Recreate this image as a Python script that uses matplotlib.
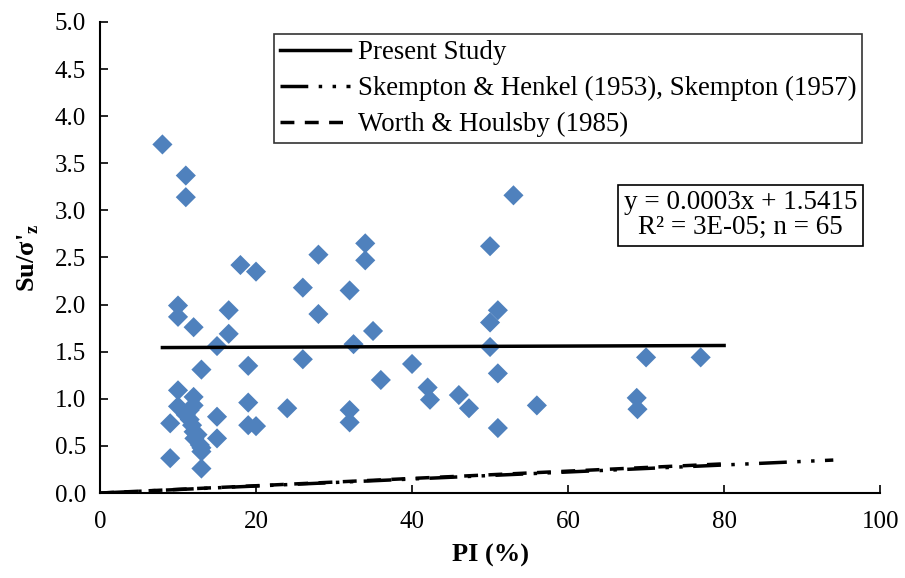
import matplotlib

matplotlib.use("Agg")
import matplotlib.pyplot as plt

plt.rcParams["font.family"] = ["Liberation Serif", "DejaVu Serif"]
plt.rcParams["mathtext.fontset"] = "custom"
plt.rcParams["mathtext.rm"] = "Liberation Serif"
plt.rcParams["mathtext.bf"] = "Liberation Serif:bold"

# Measured points (PI %, Su/sigma'z)
pi_vals = [
    8.0, 11.0, 11.0, 18.0, 20.0, 28.0, 26.0, 28.0, 10.0, 10.0,
    12.0, 16.5, 16.5, 15.0, 26.0, 19.0, 13.0, 10.0, 12.0, 19.0,
    10.0, 24.0, 19.0, 20.0, 15.0, 15.0, 9.0, 9.0, 13.0, 12.0,
    11.0, 11.8, 12.0, 12.1, 12.8, 13.0, 11.5, 12.5, 13.0, 11.5,
    53.0, 50.0, 34.0, 34.0, 32.0, 51.0, 50.0, 35.0, 32.5, 50.0,
    40.0, 51.0, 36.0, 42.0, 42.3, 46.0, 47.3, 32.0, 32.0, 51.0,
    56.0, 70.0, 77.0, 68.8, 68.9,
]
su_ratio = [
    3.70, 3.37, 3.14, 2.42, 2.35, 2.53, 2.18, 1.90, 1.99, 1.87,
    1.76, 1.94, 1.69, 1.56, 1.42, 1.35, 1.31, 1.09, 1.02, 0.96,
    0.92, 0.90, 0.72, 0.71, 0.81, 0.58, 0.74, 0.37, 0.26, 0.93,
    0.83, 0.72, 0.65, 0.58, 0.51, 0.44, 0.88, 0.62, 0.48, 0.78,
    3.16, 2.62, 2.65, 2.47, 2.15, 1.94, 1.81, 1.72, 1.58, 1.55,
    1.37, 1.27, 1.20, 1.12, 0.99, 1.04, 0.90, 0.88, 0.75, 0.69,
    0.93, 1.44, 1.44, 1.01, 0.89,
]

# Reference lines (end points)
present_x = [8, 80]
present_y = [1.544, 1.566]
skempton_x = [0, 94]
skempton_y = [0.0, 0.35]
worth_x = [0, 80]
worth_y = [0.0, 0.31]

fig = plt.figure(figsize=(9.05, 5.78), dpi=100)
ax = fig.add_axes([0.1105, 0.147, 0.862, 0.815])

ax.scatter(pi_vals, su_ratio, marker="D", s=105, color="#4F81BD",
           edgecolors="none", zorder=3)
ax.plot(present_x, present_y, color="black", lw=2.5, label="Present Study",
        zorder=4)
ax.plot(skempton_x, skempton_y, color="black", lw=2.5,
        dashes=(8, 3, 1, 3, 1, 3),
        label="Skempton & Henkel (1953), Skempton (1957)", zorder=4)
ax.plot(worth_x, worth_y, color="black", lw=2.5, dashes=(4, 3),
        label="Worth & Houlsby (1985)", zorder=4)

ax.set_xlim(0, 100)
ax.set_ylim(0, 5)
ax.set_xticks(range(0, 101, 20))
ax.set_yticks([i * 0.5 for i in range(11)])
ax.set_yticklabels([f"{i * 0.5:.1f}" for i in range(11)])
ax.tick_params(direction="in", length=6, width=1.2, labelsize=18)
ax.tick_params(axis="x", pad=13)
ax.tick_params(axis="y", pad=10)
for s in ("top", "right"):
    ax.spines[s].set_visible(False)
for s in ("left", "bottom"):
    ax.spines[s].set_linewidth(1.5)

ax.set_xlabel("PI (%)", fontsize=19, fontweight="bold", labelpad=8)
ax.set_ylabel(r"Su/σ'$_\mathbf{z}$", fontsize=19, fontweight="bold",
              labelpad=10)

leg = ax.legend(loc="upper left", bbox_to_anchor=(0.223, 0.974),
                fontsize=19.4, frameon=True, fancybox=False, handlelength=2.6,
                handletextpad=0.3, borderpad=0.22, labelspacing=0.4,
                borderaxespad=0)
leg.get_frame().set_edgecolor("black")
leg.get_frame().set_linewidth(1.2)

ax.text(0.821, 0.59, "y = 0.0003x + 1.5415\nR² = 3E-05; n = 65",
        transform=ax.transAxes, ha="center", va="center", fontsize=19.5,
        linespacing=1.0,
        bbox=dict(boxstyle="square,pad=0.2", fc="white", ec="black", lw=1.2))

fig.savefig("out.png", dpi=100)
